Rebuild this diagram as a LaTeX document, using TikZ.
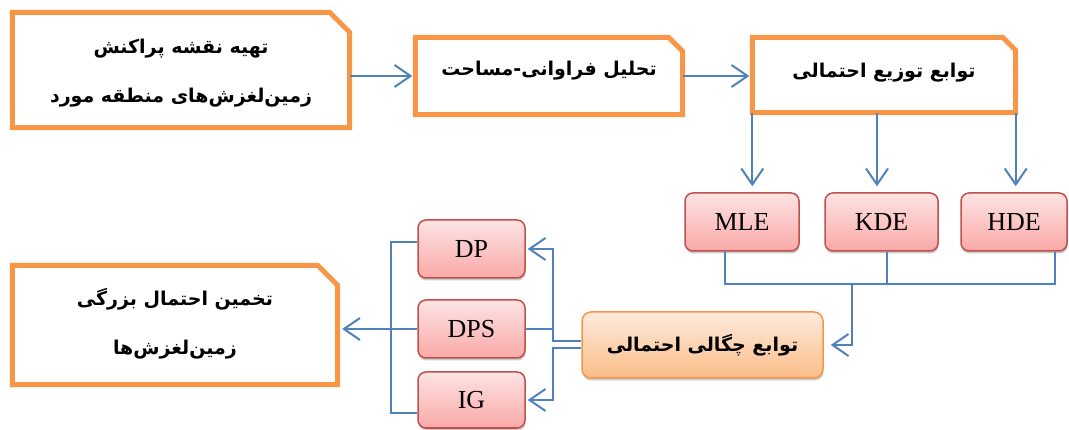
\documentclass[tikz,border=0pt]{standalone}
\usepackage{fontspec}
\setmainfont{Liberation Serif}
\newfontfamily\fa[Script=Arabic]{DejaVu Sans}
\TeXXeTstate=1
\usetikzlibrary{arrows.meta,shadows,calc}
\definecolor{obord}{HTML}{F79646}
\definecolor{lblue}{HTML}{4F81BD}
\definecolor{rbord}{HTML}{C0504D}
\definecolor{rtop}{HTML}{FDE3E3}
\definecolor{rbot}{HTML}{F9A9A8}
\definecolor{otop}{HTML}{FDEBDD}
\definecolor{obot}{HTML}{FBBD88}
\tikzset{
 tbox/.style={inner sep=0pt, align=center, font=\fa\bfseries\fontsize{19}{49}\selectfont},
 snipline/.style={draw=obord, line width=5pt, line join=miter},
 rbox/.style={draw=rbord, line width=1.5pt, rounded corners=8pt, top color=rtop, bottom color=rbot,
   minimum height=58pt, inner sep=0pt, font=\fontsize{26}{30}\selectfont,
   drop shadow={shadow xshift=0.5pt, shadow yshift=-2.5pt, opacity=0.35, fill=black!60}},
 dbox/.style={draw=obord, line width=1.5pt, rounded corners=9pt, top color=otop, bottom color=obot,
   inner sep=0pt, font=\fa\bfseries\fontsize{19}{22}\selectfont,
   drop shadow={shadow xshift=0.5pt, shadow yshift=-2.5pt, opacity=0.35, fill=black!60}},
 bl/.style={draw=lblue, line width=2pt},
 arr/.style={bl, -{Straight Barb[length=16pt,width=22pt]}},
}
\newcommand\snipit[2]{\draw[snipline] (#1.south west) -- (#1.north west) -- ([xshift=-#2]#1.north east) -- ([yshift=-#2]#1.north east) -- (#1.south east) -- cycle;}
\begin{document}
\begin{tikzpicture}[x=1pt,y=-1pt]
\useasboundingbox (0,0) rectangle (1069,430);
% top and side boxes
\node[tbox, minimum width=337pt, minimum height=115pt] (b1) at (181,70) {};
\node[tbox] (t1) at (181,73) {\beginR تهیه نقشه پراکنش\endR\\\beginR زمین‌لغزش‌های منطقه مورد\endR};
\snipit{b1}{20pt}
\node[tbox, minimum width=267pt, minimum height=77pt] (b2) at (549,76) {};
\node[tbox] (t2) at (549,71) {\beginR تحلیل فراوانی-مساحت\endR};
\snipit{b2}{14pt}
\node[tbox, minimum width=263pt, minimum height=75pt] (b3) at (884,75) {};
\node[tbox] (t3) at (884,73) {\beginR توابع توزیع احتمالی\endR};
\snipit{b3}{13pt}
\node[tbox, minimum width=325pt, minimum height=119pt] (b4) at (175,325) {};
\node[tbox] (t4) at (175,324) {\beginR تخمین احتمال بزرگی\endR\\\beginR زمین‌لغزش‌ها\endR};
\snipit{b4}{20pt}
% red boxes
\node[rbox, minimum width=114pt] (mle) at (742,222) {MLE};
\node[rbox, minimum width=113pt] (kde) at (881.5,222) {KDE};
\node[rbox, minimum width=106pt] (hde) at (1014,222) {HDE};
\node[rbox, minimum width=107pt] (dp) at (471.5,249) {DP};
\node[rbox, minimum width=107pt] (dps) at (471.5,329) {DPS};
\node[rbox, minimum width=107pt, minimum height=56pt] (ig) at (471.5,400) {IG};
% density box
\node[dbox, minimum width=241pt, minimum height=66pt] (dens) at (702.5,345)
  {\beginR توابع چگالی احتمالی\endR};
% connectors
\draw[arr, shorten >=3pt] (b1.east |- b2.west) -- (b2.west);
\draw[arr, shorten >=3pt] (b2.east) -- (b2.east -| b3.west);
\draw[arr, shorten >=6pt] (b3.south west) -- (b3.south west |- mle.north);
\draw[arr, shorten >=6pt] ([xshift=-7pt]b3.south) -- ([xshift=-7pt]b3.south |- kde.north);
\draw[arr, shorten >=6pt] (b3.south east) -- (b3.south east |- hde.north);
\draw[bl] ([xshift=-17pt]mle.south) -- ++(0,32) -| ([xshift=41pt]hde.south);
\draw[bl] ([xshift=5.5pt]kde.south) -- ++(0,32);
\coordinate (bj) at (852,283);
\draw[arr, shorten >=7pt] (bj) |- (dens.east);
\draw[arr, shorten >=2pt] ([yshift=3.5pt]dens.west) -| ([xshift=27pt]dp.east) -- (dp.east);
\draw[arr, shorten >=2pt] ([yshift=-3.5pt]dens.west) -| ([xshift=27pt]ig.east) -- (ig.east);
\draw[bl] (dps.east) -- ++(27,0);
\draw[bl] ([yshift=7pt]dp.west) -- ++(-26,0) |- ([yshift=-13pt]ig.west);
\draw[arr, shorten >=4.5pt] (dps.west) -- (dps.west -| b4.east);
\end{tikzpicture}
\end{document}
